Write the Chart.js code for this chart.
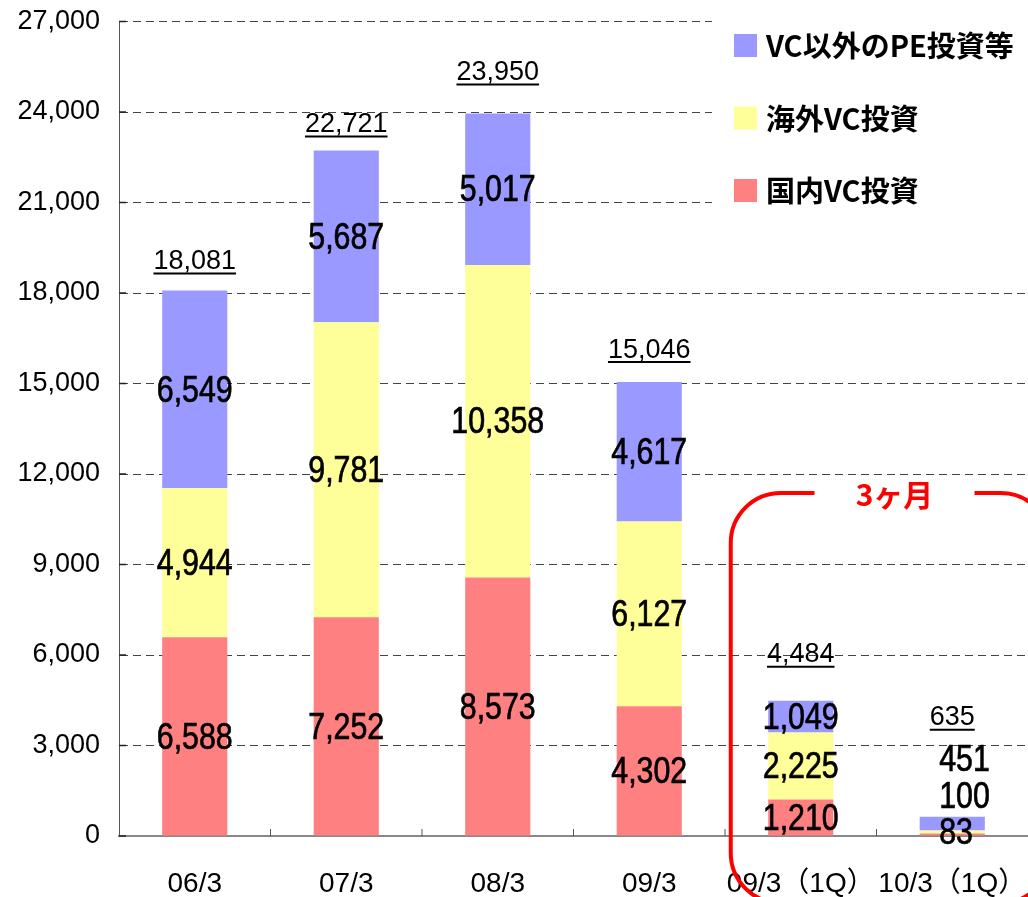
<!DOCTYPE html>
<html lang="ja">
<head>
<meta charset="UTF-8">
<title>VC投資額の推移</title>
<script src="https://cdn.jsdelivr.net/npm/chart.js"></script>
<style>
  html, body { margin: 0; padding: 0; background: #fff; overflow: hidden; }
  #wrap { position: relative; width: 1028px; height: 897px; }
</style>
</head>
<body>
<div id="wrap"><canvas id="vcChart"></canvas></div>
<script>
// データ（百万円）
const categories = ['06/3', '07/3', '08/3', '09/3', '09/3（1Q）', '10/3（1Q）'];
const domesticVC = [6588, 7252, 8573, 4302, 1210, 83];
const overseasVC = [4944, 9781, 10358, 6127, 2225, 100];
const otherPE = [6549, 5687, 5017, 4617, 1049, 451];
const totals = [18081, 22721, 23950, 15046, 4484, 635];
const seriesNames = ['国内VC投資', '海外VC投資', 'VC以外のPE投資等'];
const seriesColors = ['#FF8080', '#FFFF99', '#9999FF'];
const frameLabel = '3ヶ月';

const fmt = v => v.toLocaleString('en-US');
const JP = '"Noto Sans CJK JP", sans-serif';
const LAT = '"Liberation Sans", Arial, "Noto Sans CJK JP", sans-serif';

// 数値ラベル用の細めのフォント（無ければ横方向に縮める）
let numFont = '37px "Liberation Sans Narrow", "Liberation Sans", Arial, sans-serif';
let numScale = 1;
(function () {
  const c = document.createElement('canvas').getContext('2d');
  c.font = '100px "Liberation Sans Narrow", "Liberation Sans", Arial, sans-serif';
  if (c.measureText('0').width > 50) numScale = 0.82;
})();

function drawNum(ctx, text, x, y, align) {
  ctx.save();
  ctx.font = numFont;
  ctx.fillStyle = '#000';
  ctx.strokeStyle = '#000';
  ctx.lineWidth = 0.7;
  ctx.textAlign = align || 'center';
  ctx.textBaseline = 'middle';
  ctx.translate(x, y);
  ctx.scale(numScale, 1);
  ctx.fillText(text, 0, 0);
  ctx.strokeText(text, 0, 0);
  ctx.restore();
}

// 合計ラベルのバー上端からの高さ
const totalLift = [29, 26, 41, 32, 46, 99];

const overlay = {
  id: 'overlay',
  afterDatasetsDraw(chart) {
    const ctx = chart.ctx;
    const xs = chart.scales.x, ys = chart.scales.y;
    const last = categories.length - 1;
    chart.data.datasets.forEach((ds, di) => {
      const meta = chart.getDatasetMeta(di);
      meta.data.forEach((bar, i) => {
        const txt = fmt(ds.data[i]);
        if (i === last) {
          drawNum(ctx, txt, bar.x - 13, ys.getPixelForValue(0) - 2 - di * 36.5, 'left');
        } else {
          drawNum(ctx, txt, bar.x, (bar.y + bar.base) / 2 + 2);
        }
      });
    });
    // 合計（下線付き）
    ctx.save();
    ctx.font = '27px ' + LAT;
    ctx.fillStyle = '#000';
    ctx.strokeStyle = '#000';
    ctx.textAlign = 'center';
    ctx.textBaseline = 'middle';
    totals.forEach((t, i) => {
      const x = xs.getPixelForValue(i);
      const y = ys.getPixelForValue(t) - totalLift[i];
      const txt = fmt(t);
      const w = ctx.measureText(txt).width;
      ctx.fillText(txt, x, y);
      ctx.lineWidth = 2;
      ctx.beginPath();
      ctx.moveTo(x - w / 2, y + 12);
      ctx.lineTo(x + w / 2, y + 12);
      ctx.stroke();
    });
    ctx.restore();
  },
  afterDraw(chart) {
    const ctx = chart.ctx;
    const area = chart.chartArea;
    const xs = chart.scales.x, ys = chart.scales.y;
    ctx.save();
    // 軸の内向き目盛り
    ctx.strokeStyle = '#222';
    ctx.lineWidth = 1.5;
    ys.ticks.forEach(t => {
      const y = ys.getPixelForValue(t.value);
      ctx.beginPath();
      ctx.moveTo(area.left, y);
      ctx.lineTo(area.left + 7, y);
      ctx.stroke();
    });
    ctx.strokeStyle = '#555';
    ctx.lineWidth = 1;
    for (let i = 1; i < categories.length; i++) {
      const x = (xs.getPixelForValue(i - 1) + xs.getPixelForValue(i)) / 2;
      ctx.beginPath();
      ctx.moveTo(x, area.bottom);
      ctx.lineTo(x, area.bottom - 7);
      ctx.stroke();
    }

    // 凡例
    ctx.fillStyle = '#fff';
    ctx.fillRect(712, 0, chart.width - 712, 215);
    const order = [2, 1, 0];
    ctx.font = 'bold 29px ' + JP;
    ctx.textBaseline = 'middle';
    ctx.textAlign = 'left';
    order.forEach((si, k) => {
      const cy = 45 + k * 72.5;
      ctx.fillStyle = seriesColors[si];
      ctx.fillRect(734, cy - 11, 23, 23);
      ctx.fillStyle = '#000';
      ctx.fillText(seriesNames[si], 766, cy + 1);
    });

    // 3ヶ月の枠
    const fx = xs.getPixelForValue(4) - 70;
    const fy = 493;
    ctx.strokeStyle = '#FF0000';
    ctx.lineWidth = 4;
    ctx.beginPath();
    ctx.roundRect(fx, fy, 320, 410, 50);
    ctx.stroke();
    const lx = (xs.getPixelForValue(4) + xs.getPixelForValue(5)) / 2 + 18;
    ctx.fillStyle = '#fff';
    ctx.fillRect(lx - 80, fy - 16, 160, 32);
    ctx.fillStyle = '#FF0000';
    ctx.font = 'bold 30px ' + JP;
    ctx.textAlign = 'center';
    ctx.fillText(frameLabel, lx, fy + 2);
    ctx.restore();
  }
};

const datasets = [domesticVC, overseasVC, otherPE].map((d, i) => ({
  label: seriesNames[i],
  data: d,
  backgroundColor: seriesColors[i],
  borderWidth: 0,
  barPercentage: 0.43,
  categoryPercentage: 1
}));

new Chart(document.getElementById('vcChart'), {
  type: 'bar',
  data: { labels: categories, datasets: datasets },
  options: {
    responsive: true,
    maintainAspectRatio: false,
    animation: false,
    layout: { padding: { top: 21.5, right: 0, bottom: 0, left: 0 } },
    plugins: { legend: { display: false }, tooltip: { enabled: false } },
    scales: {
      x: {
        stacked: true,
        grid: { display: false, drawTicks: false },
        border: { display: true, color: '#888', width: 2 },
        ticks: {
          color: '#000', padding: 31, maxRotation: 0, minRotation: 0, autoSkip: false,
          font: { family: LAT, size: 28 }
        },
        afterFit(s) { s.height = 61; s.paddingLeft = 0; s.paddingRight = 0; }
      },
      y: {
        stacked: true,
        min: 0,
        max: 27000,
        grid: {
          drawTicks: false,
          color: c => c.tick && c.tick.value === 0 ? 'rgba(0,0,0,0)' : '#444',
          lineWidth: 1
        },
        border: { display: true, color: '#555', width: 1, dash: [8, 5] },
        ticks: {
          stepSize: 3000,
          padding: 19,
          color: '#000',
          font: { family: LAT, size: 27 },
          callback: v => fmt(v)
        },
        afterFit(s) { s.width = 119; s.paddingTop = 0; s.paddingBottom = 0; }
      }
    }
  },
  plugins: [overlay]
});
</script>
</body>
</html>
